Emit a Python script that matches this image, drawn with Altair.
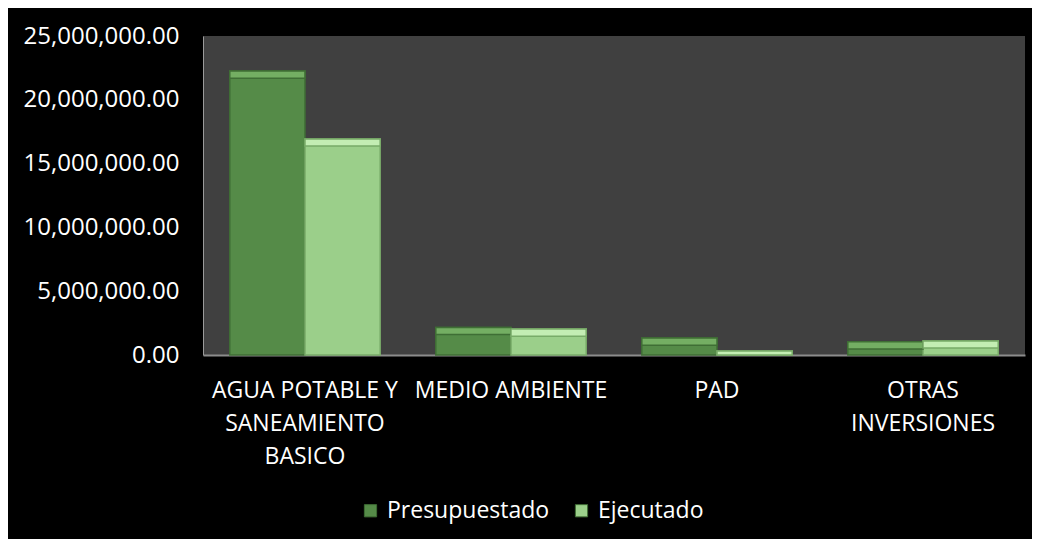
import altair as alt
import pandas as pd

categories = ["AGUA POTABLE Y SANEAMIENTO BASICO", "MEDIO AMBIENTE", "PAD", "OTRAS INVERSIONES"]
series = ["Presupuestado", "Ejecutado"]
presupuestado = [22250000, 2160000, 1330000, 1040000]
ejecutado = [16930000, 2030000, 310000, 1100000]

rows = []
for c, p, e in zip(categories, presupuestado, ejecutado):
    rows.append({"categoria": c, "serie": "Presupuestado", "valor": p})
    rows.append({"categoria": c, "serie": "Ejecutado", "valor": e})
df = pd.DataFrame(rows)

FONT = "Open Sans"
label_expr = (
    "datum.value == 'AGUA POTABLE Y SANEAMIENTO BASICO' ? ['AGUA POTABLE Y','SANEAMIENTO','BASICO'] : "
    "datum.value == 'OTRAS INVERSIONES' ? ['OTRAS','INVERSIONES'] : datum.value"
)

x = alt.X("categoria:N", sort=categories, title=None,
          scale=alt.Scale(paddingInner=0.27, paddingOuter=0.13),
          axis=alt.Axis(labelAngle=0, labelExpr=label_expr, labelColor="white",
                        labelFont=FONT, labelFontSize=23, labelLineHeight=33,
                        labelPadding=24, labelLimit=0, ticks=False, domainColor="#8c8c8c",
                        domainWidth=2, labelBaseline="top"))
xo = alt.XOffset("serie:N", sort=series, scale=alt.Scale(paddingInner=0, paddingOuter=0))
y = alt.Y("valor:Q", title=None,
          scale=alt.Scale(domain=[0, 25000000]),
          axis=alt.Axis(values=[0, 5000000, 10000000, 15000000, 20000000, 25000000],
                        format=",.2f", labelColor="white", labelFont=FONT,
                        labelFontSize=24, labelPadding=24, labelLimit=0, ticks=False,
                        grid=False, domainColor="#9a9a9a", domainWidth=1))
color = alt.Color("serie:N", sort=series,
                  scale=alt.Scale(domain=series, range=["#558b48", "#9bcf8a"]),
                  legend=alt.Legend(title=None, orient="none", direction="horizontal",
                                    legendX=156, legendY=463, labelColor="white",
                                    labelFont=FONT, labelFontSize=23, labelLimit=0,
                                    symbolType="square", symbolSize=150,
                                    symbolStrokeWidth=1, symbolStrokeColor="#3d6b33",
                                    columnPadding=20, labelOffset=5))
stroke = alt.Stroke("serie:N", sort=series,
                    scale=alt.Scale(domain=series, range=["#3f6e35", "#78ab68"]),
                    legend=None)

bars = alt.Chart(df).mark_bar(strokeWidth=1.5).encode(
    x=x, xOffset=xo, y=y, color=color, stroke=stroke
)

tops = alt.Chart(df).transform_calculate(
    bevel="max(datum.valor - 560000, 0)"
).mark_bar(strokeWidth=1.5).encode(
    x=x, xOffset=xo, y=y, y2="bevel:Q", stroke=stroke,
    color=alt.Color("serie:N", sort=series,
                    scale=alt.Scale(domain=series, range=["#74ae63", "#c3edb3"]),
                    legend=None)
)

chart = alt.layer(bars, tops).resolve_scale(color="independent").properties(
    width=822, height=319,
    autosize=alt.AutoSizeParams(type="none"),
    padding={"left": 195, "top": 28, "right": 7, "bottom": 184},
    background="black",
).configure_view(fill="#404040", stroke=None)

chart.save("out.html", embed_options={"renderer": "svg", "actions": False})
